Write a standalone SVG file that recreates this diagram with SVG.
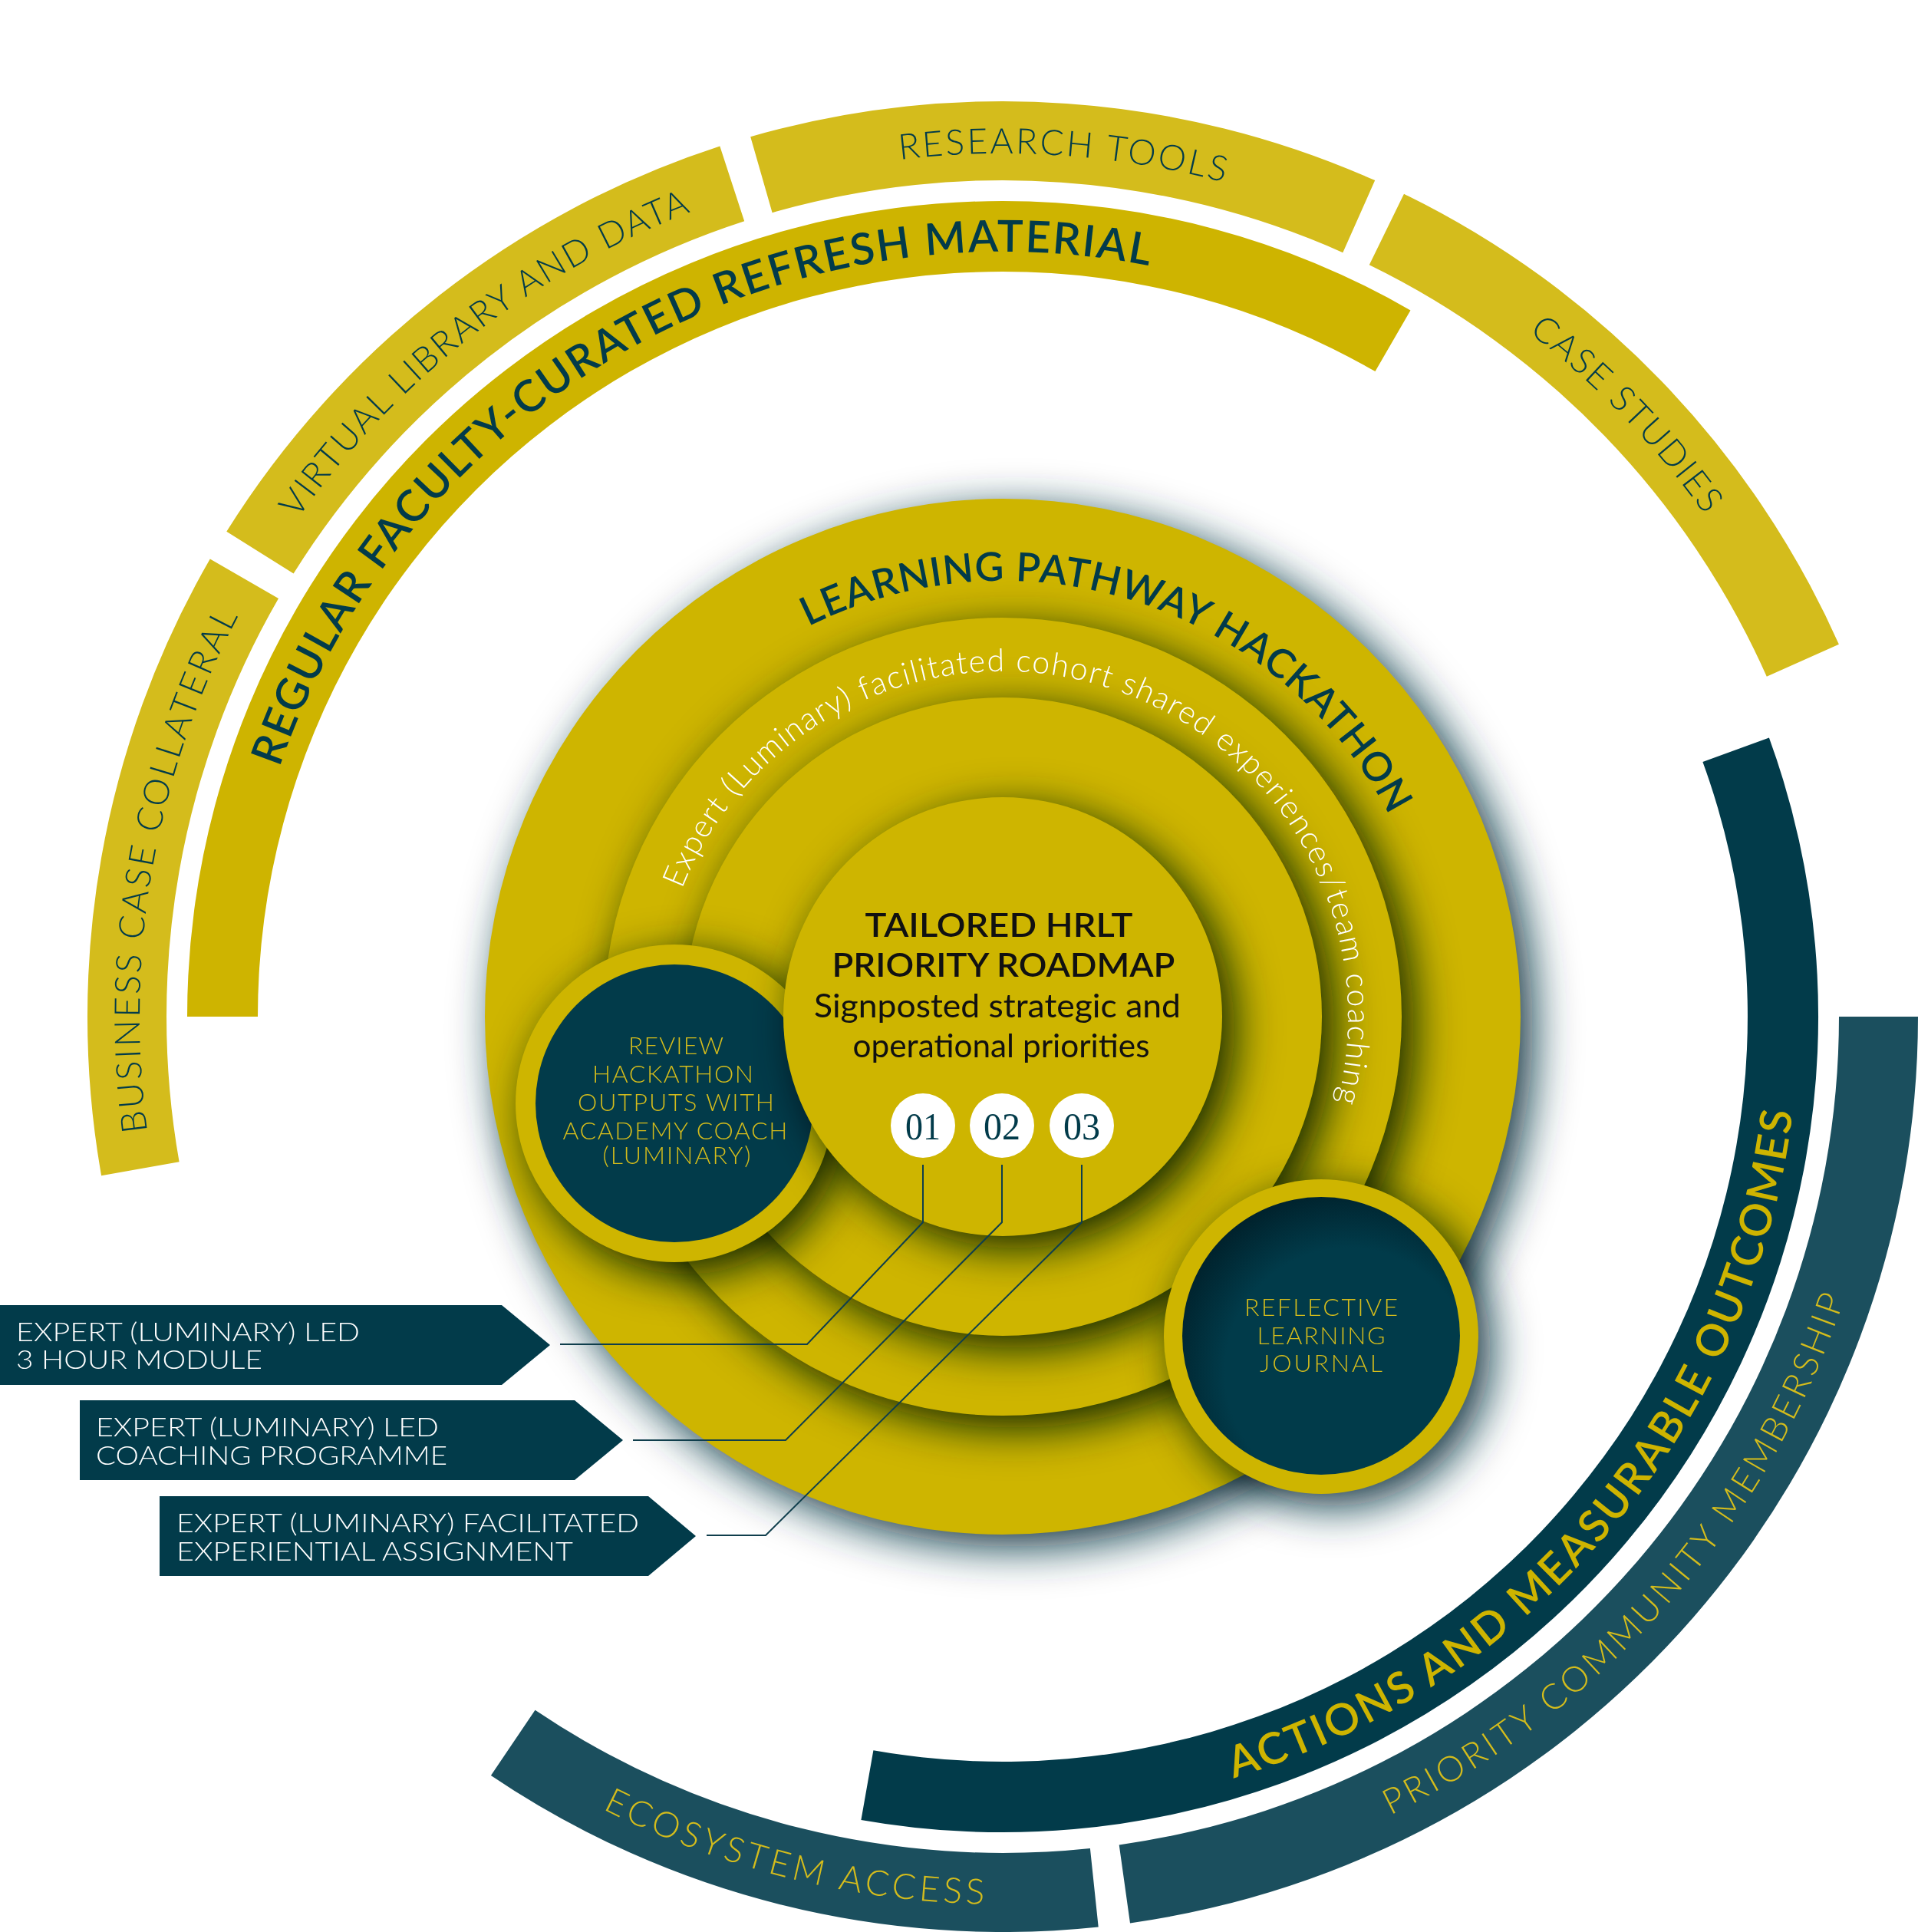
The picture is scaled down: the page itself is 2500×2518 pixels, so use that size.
<svg xmlns="http://www.w3.org/2000/svg" width="2500" height="2518" viewBox="0 0 2500 2518">
<defs>
<style>
.ring{fill:#D4BC1C}
.band{fill:#CEB400}
.disc{fill:#CEB500}
.navy{fill:#023B4A}
.teal{fill:#1B4F5E}
.shadow{fill:#0a3542;mix-blend-mode:multiply}
.lt{font-family:Lato,"Open Sans","Liberation Sans",sans-serif;font-weight:300}
.rg{font-family:Lato,"Open Sans","Liberation Sans",sans-serif;font-weight:400}
.sb{font-family:Lato,"Open Sans","Liberation Sans",sans-serif;font-weight:600}
.ringtxt{font-size:46px;fill:#023B4A}
.goldtxt{font-size:46px;fill:#D4BC1C}
.big{font-size:57px;fill:#023B4A}
.arrtxt{font-size:34px;fill:#ffffff}
.circtxt{font-size:32px;fill:#D4BC1C}
.num{font-family:"Liberation Serif","Times New Roman",serif;font-size:51px;fill:#023B4A}
.conn{fill:none;stroke:#0f3e4c;stroke-width:2}
</style>
<filter id="blur" x="-30%" y="-30%" width="160%" height="160%"><feGaussianBlur stdDeviation="29"/></filter>
<radialGradient id="innerDark" cx="0.6" cy="0.63" r="0.72">
<stop offset="0.62" stop-color="#013B4A"/>
<stop offset="1" stop-color="#001B24"/>
</radialGradient>
<path id="p-bus" d="M385.5,1970.3 A1125,1125 0 0 1 661.7,403.5"/>
<path id="p-vir" d="M190.4,1187.9 A1125,1125 0 0 1 1444.1,208.4"/>
<path id="p-res" d="M568.9,476 A1125,1125 0 0 1 2156,586.9"/>
<path id="p-cas" d="M1326.6,200.2 A1125,1125 0 0 1 2431.8,1344.6"/>
<path id="p-reg" d="M325.1,1498.1 A997,997 0 0 1 1947.9,561.3"/>
<path id="p-lea" d="M805.5,1058.3 A568,568 0 0 1 1869.5,1404"/>
<path id="p-exp" d="M861.4,1262.4 A450,450 0 1 1 1704.3,1536.3"/>
<path id="p-act" d="M952.3,2299.5 A1037,1037 0 0 0 2205.1,806.5"/>
<path id="p-pri" d="M1381.7,2479.6 A1157,1157 0 0 0 2461.6,1250.3"/>
<path id="p-eco" d="M315.3,1920.9 A1157,1157 0 0 0 1902.9,2316.7"/>
</defs>
<rect width="2500" height="2518" fill="#ffffff"/>

<!-- outer gold ring -->
<g id="business-case-collateral">
<path class="ring" d="M132.1,1532.2 A1193,1193 0 0 1 273.8,728.5 L363,780 A1090,1090 0 0 0 233.6,1514.3 Z"/>
<text class="lt ringtxt" text-anchor="middle"><textPath href="#p-bus" startOffset="50%" textLength="693" lengthAdjust="spacing">BUSINESS CASE COLLATERAL</textPath></text>
</g>
<g id="virtual-library">
<path class="ring" d="M295.3,692.8 A1193,1193 0 0 1 938.3,190.4 L970.2,288.3 A1090,1090 0 0 0 382.6,747.4 Z"/>
<text class="lt ringtxt" text-anchor="middle"><textPath href="#p-vir" startOffset="50%" textLength="660" lengthAdjust="spacing">VIRTUAL LIBRARY AND DATA</textPath></text>
</g>
<g id="research-tools">
<path class="ring" d="M978.2,178.2 A1193,1193 0 0 1 1792.2,235.1 L1750.3,329.2 A1090,1090 0 0 0 1006.6,277.2 Z"/>
<text class="lt ringtxt" text-anchor="middle"><textPath href="#p-res" startOffset="50%" textLength="426" lengthAdjust="spacing">RESEARCH TOOLS</textPath></text>
</g>
<g id="case-studies">
<path class="ring" d="M1830,252.7 A1193,1193 0 0 1 2396.9,839.8 L2302.8,881.7 A1090,1090 0 0 0 1784.8,345.3 Z"/>
<text class="lt ringtxt" text-anchor="middle"><textPath href="#p-cas" startOffset="50%" textLength="332" lengthAdjust="spacing">CASE STUDIES</textPath></text>
</g>

<g id="refresh-material">
<path class="band" d="M244,1325 A1063,1063 0 0 1 1838.5,404.4 L1792.5,484.1 A971,971 0 0 0 336,1325 Z"/>
<text class="sb big" text-anchor="middle"><textPath href="#p-reg" startOffset="50%" textLength="1427" lengthAdjust="spacing">REGULAR FACULTY-CURATED REFRESH MATERIAL</textPath></text>
</g>

<g id="actions-outcomes">
<path class="navy" d="M2305.9,961.4 A1063,1063 0 0 1 1122.4,2371.9 L1138.4,2281.2 A971,971 0 0 0 2219.4,992.9 Z"/>
<text class="sb" font-size="57" fill="#CEB400" text-anchor="middle"><textPath href="#p-act" startOffset="50%" textLength="1200" lengthAdjust="spacing">ACTIONS AND MEASURABLE OUTCOMES</textPath></text>
</g>
<g id="priority-community">
<path class="teal" d="M2500,1325 A1193,1193 0 0 1 1473,2506.4 L1458.7,2404.4 A1090,1090 0 0 0 2397,1325 Z"/>
<text class="lt goldtxt" text-anchor="middle"><textPath href="#p-pri" startOffset="50%" textLength="921" lengthAdjust="spacing">PRIORITY COMMUNITY MEMBERSHIP</textPath></text>
</g>
<g id="ecosystem-access">
<path class="teal" d="M1431.7,2511.5 A1193,1193 0 0 1 639.9,2314 L697.5,2228.7 A1090,1090 0 0 0 1420.9,2409 Z"/>
<text class="lt goldtxt" text-anchor="middle"><textPath href="#p-eco" startOffset="50%" textLength="517" lengthAdjust="spacing">ECOSYSTEM ACCESS</textPath></text>
</g>

<!-- concentric circles -->
<g id="learning-pathway-hackathon">
<circle class="shadow" cx="1323" cy="1341" r="675" filter="url(#blur)"/>
<circle class="disc" cx="1307" cy="1325" r="675"/>
</g>
<g id="cohort-coaching">
<circle class="shadow" cx="1323" cy="1341" r="520" filter="url(#blur)"/>
<circle class="disc" cx="1307" cy="1325" r="520"/>
</g>
<g id="ring-three">
<circle class="shadow" cx="1323" cy="1341" r="416" filter="url(#blur)"/>
<circle class="disc" cx="1307" cy="1325" r="416"/>
</g>
<g id="review-hackathon">
<circle class="shadow" cx="895" cy="1454" r="207" filter="url(#blur)"/>
<circle class="disc" cx="879" cy="1438" r="207"/>
<circle class="navy" cx="879" cy="1438" r="181"/>
<g class="lt circtxt" text-anchor="middle">
<text x="881" y="1374" textLength="124" lengthAdjust="spacing">REVIEW</text>
<text x="877" y="1411" textLength="210" lengthAdjust="spacing">HACKATHON</text>
<text x="881" y="1448" textLength="256" lengthAdjust="spacing">OUTPUTS WITH</text>
<text x="880" y="1485" textLength="293" lengthAdjust="spacing">ACADEMY COACH</text>
<text x="882" y="1517" textLength="193" lengthAdjust="spacing">(LUMINARY)</text>
</g>
</g>
<g id="priority-roadmap">
<circle class="shadow" cx="1323" cy="1341" r="286" filter="url(#blur)"/>
<circle class="disc" cx="1307" cy="1325" r="286"/>
<text class="sb" font-size="42" fill="#111111" x="1302" y="1221" text-anchor="middle" textLength="349" lengthAdjust="spacingAndGlyphs">TAILORED HRLT</text>
<text class="sb" font-size="42" fill="#111111" x="1308" y="1273" text-anchor="middle" textLength="447" lengthAdjust="spacingAndGlyphs">PRIORITY ROADMAP</text>
<text class="rg" font-size="43" fill="#111111" x="1300" y="1326" text-anchor="middle" textLength="478" lengthAdjust="spacingAndGlyphs">Signposted strategic and</text>
<text class="rg" font-size="43" fill="#111111" x="1305" y="1378" text-anchor="middle" textLength="387" lengthAdjust="spacingAndGlyphs">operational priorities</text>
</g>
<g id="step-01">
<circle cx="1203" cy="1467" r="42" fill="#ffffff"/>
<text class="num" x="1203" y="1485" text-anchor="middle" textLength="46" lengthAdjust="spacingAndGlyphs">01</text>
</g>
<g id="step-02">
<circle cx="1306" cy="1467" r="42" fill="#ffffff"/>
<text class="num" x="1306" y="1485" text-anchor="middle" textLength="48" lengthAdjust="spacingAndGlyphs">02</text>
</g>
<g id="step-03">
<circle cx="1410" cy="1467" r="42" fill="#ffffff"/>
<text class="num" x="1410" y="1485" text-anchor="middle" textLength="48" lengthAdjust="spacingAndGlyphs">03</text>
</g>
<g id="reflective-journal">
<circle class="shadow" cx="1738" cy="1758" r="205" filter="url(#blur)"/>
<circle class="disc" cx="1722" cy="1742" r="205"/>
<circle cx="1722" cy="1741" r="181" fill="url(#innerDark)"/>
<g class="lt circtxt" font-size="33" text-anchor="middle">
<text x="1722" y="1715" textLength="200" lengthAdjust="spacing">REFLECTIVE</text>
<text x="1722" y="1752" textLength="167" lengthAdjust="spacing">LEARNING</text>
<text x="1722" y="1788" textLength="160" lengthAdjust="spacing">JOURNAL</text>
</g>
</g>

<!-- circle labels -->
<g id="label-hackathon">
<text class="sb" font-size="52" fill="#023B4A" text-anchor="middle"><textPath href="#p-lea" startOffset="50%" textLength="882" lengthAdjust="spacing">LEARNING PATHWAY HACKATHON</textPath></text>
</g>
<g id="label-coaching">
<text class="lt" font-size="41" fill="#ffffff" text-anchor="middle"><textPath href="#p-exp" startOffset="50%" textLength="1356" lengthAdjust="spacing">Expert (Luminary) facilitated cohort shared experiences/team coaching</textPath></text>
</g>

<!-- arrow labels -->
<g id="arrow-module">
<polygon class="navy" points="0,1701 654,1701 717,1753 654,1805 0,1805"/>
<text class="lt arrtxt" x="21" y="1748" textLength="448" lengthAdjust="spacingAndGlyphs">EXPERT (LUMINARY) LED</text>
<text class="lt arrtxt" x="21" y="1784" textLength="321" lengthAdjust="spacingAndGlyphs">3 HOUR MODULE</text>
</g>
<g id="arrow-coaching">
<polygon class="navy" points="104,1825 749,1825 812,1877 749,1929 104,1929"/>
<text class="lt arrtxt" x="125" y="1872" textLength="447" lengthAdjust="spacingAndGlyphs">EXPERT (LUMINARY) LED</text>
<text class="lt arrtxt" x="125" y="1909" textLength="458" lengthAdjust="spacingAndGlyphs">COACHING PROGRAMME</text>
</g>
<g id="arrow-assignment">
<polygon class="navy" points="208,1950 845,1950 907,2002 845,2054 208,2054"/>
<text class="lt arrtxt" x="230" y="1997" textLength="603" lengthAdjust="spacingAndGlyphs">EXPERT (LUMINARY) FACILITATED</text>
<text class="lt arrtxt" x="230" y="2034" textLength="517" lengthAdjust="spacingAndGlyphs">EXPERIENTIAL ASSIGNMENT</text>
</g>

<g id="connectors">
<path class="conn" d="M1203,1518 V1593 L1052,1752 H730"/>
<path class="conn" d="M1306,1518 V1593 L1024,1877 H825"/>
<path class="conn" d="M1410,1518 V1593 L998,2001 H921"/>
</g>
</svg>
